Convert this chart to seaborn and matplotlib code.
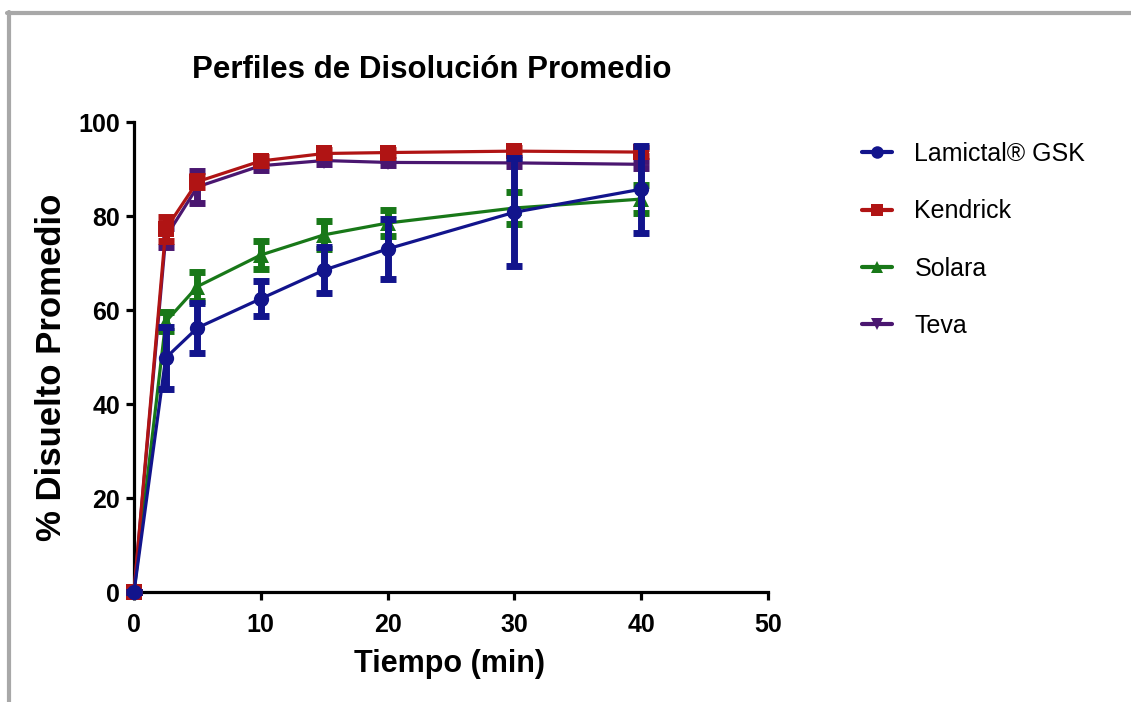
import numpy as np
import pandas as pd
import matplotlib
matplotlib.use("Agg")
import matplotlib.pyplot as plt
from matplotlib.lines import Line2D
import seaborn as sns

# ---- data ----
tiempo = [0, 2.5, 5, 10, 15, 20, 30, 40]
series_names = ["Lamictal® GSK", "Kendrick", "Solara", "Teva"]
lamictal = [0, 49.8, 56.2, 62.4, 68.5, 73.0, 80.8, 85.7]
lamictal_err = [0, 6.6, 5.3, 3.7, 4.8, 6.4, 11.5, 9.3]
kendrick = [0, 77.2, 87.3, 91.7, 93.3, 93.5, 93.8, 93.6]
kendrick_err = [0, 2.5, 1.2, 0.8, 0.7, 0.6, 0.6, 0.8]
solara = [0, 57.5, 65.0, 71.7, 76.0, 78.5, 81.7, 83.6]
solara_err = [0, 2.0, 3.0, 3.0, 3.0, 2.8, 3.4, 3.0]
teva = [0, 75.5, 86.2, 90.7, 91.8, 91.4, 91.3, 91.0]
teva_err = [0, 2.0, 3.4, 1.0, 0.8, 0.6, 0.6, 0.8]

x_ticks = [0, 10, 20, 30, 40, 50]
y_ticks = [0, 20, 40, 60, 80, 100]

title = "Perfiles de Disolución Promedio"
xlabel = "Tiempo (min)"
ylabel = "% Disuelto Promedio"

colors = {"Lamictal® GSK": "#12148c", "Kendrick": "#b01414",
          "Solara": "#187818", "Teva": "#4a1670"}
markers = {"Lamictal® GSK": "o", "Kendrick": "s", "Solara": "^", "Teva": "v"}

values = {"Lamictal® GSK": lamictal, "Kendrick": kendrick, "Solara": solara, "Teva": teva}
errors = {"Lamictal® GSK": lamictal_err, "Kendrick": kendrick_err, "Solara": solara_err, "Teva": teva_err}

sns.set_theme(style="ticks")
plt.rcParams["font.family"] = ["Liberation Sans", "DejaVu Sans"]
plt.rcParams["text.color"] = "black"
plt.rcParams["axes.labelcolor"] = "black"
plt.rcParams["xtick.color"] = "black"
plt.rcParams["ytick.color"] = "black"

fig = plt.figure(figsize=(11.31, 7.02), dpi=100)
ax = fig.add_axes([134 / 1131, 110 / 702, 634 / 1131, 470 / 702])

draw_order = ["Teva", "Solara", "Kendrick", "Lamictal® GSK"]
for i, name in enumerate(draw_order):
    df = pd.DataFrame({"t": tiempo, "v": values[name]})
    z = 3 + i
    sns.lineplot(data=df, x="t", y="v", ax=ax, color=colors[name], marker=markers[name],
                 markersize=11, markeredgewidth=0, linewidth=2.3, clip_on=False, zorder=z + 0.5,
                 label=name)
    ax.errorbar(tiempo, values[name], yerr=errors[name], fmt="none", ecolor=colors[name],
                elinewidth=5, capsize=6, capthick=5, zorder=z, clip_on=False)

ax.set_xlim(0, 50)
ax.set_ylim(0, 100)
ax.set_xticks(x_ticks)
ax.set_yticks(y_ticks)
ax.set_xlabel("")
ax.set_ylabel("")
sns.despine(ax=ax)
for s in ["left", "bottom"]:
    ax.spines[s].set_linewidth(2.3)
    ax.spines[s].set_color("black")
ax.tick_params(axis="both", width=2.3, length=6, colors="black", direction="out")
ax.tick_params(axis="x", pad=9)
ax.tick_params(axis="y", pad=4)
for lab in ax.get_xticklabels() + ax.get_yticklabels():
    lab.set_fontweight("bold")
    lab.set_fontsize(18)
    lab.set_color("black")

if ax.get_legend():
    ax.get_legend().remove()

leg_handles = [Line2D([0], [0], color=colors[n], marker=markers[n], markersize=9,
                      markeredgewidth=0, linewidth=3) for n in series_names]
leg = fig.legend(leg_handles, series_names, loc="upper left",
                 bbox_to_anchor=(852 / 1131, 1 - 132 / 702), frameon=False,
                 prop={"size": 18}, handlelength=1.2,
                 handletextpad=0.9, labelspacing=1.33, borderaxespad=0)
for t in leg.get_texts():
    t.set_color("black")

fig.text(431.5 / 1131, 1 - 78 / 702, title, ha="center", va="baseline",
         fontsize=22.5, fontweight="bold", color="black")
fig.text(450 / 1131, 1 - 672 / 702, xlabel, ha="center", va="baseline",
         fontsize=22, fontweight="bold", color="black")
fig.text(51.5 / 1131, 1 - 367 / 702, ylabel, ha="center", va="center", rotation=90,
         fontsize=25, fontweight="bold", color="black")

# frame decoration
gray = "#a8a8a8"
fig.add_artist(Line2D([7 / 1131, 1.0], [1 - 13 / 702, 1 - 13 / 702], transform=fig.transFigure,
                      color=gray, linewidth=3))
fig.add_artist(Line2D([8.5 / 1131, 8.5 / 1131], [0, 1 - 12 / 702], transform=fig.transFigure,
                      color=gray, linewidth=3))

fig.savefig("out.png", dpi=100)
